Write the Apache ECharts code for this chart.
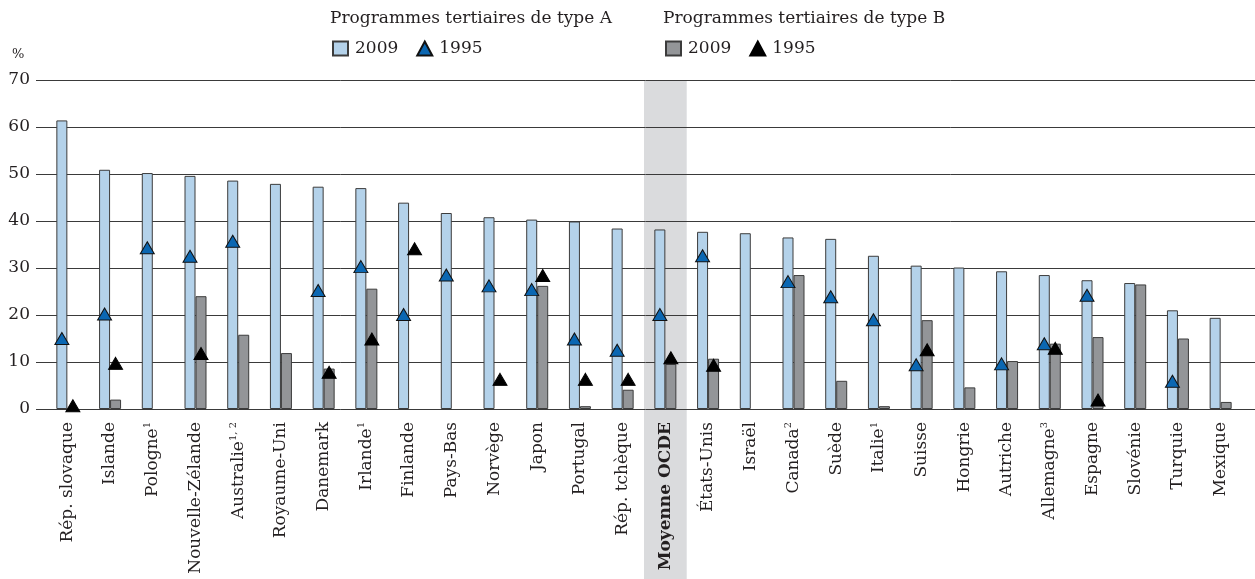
<!DOCTYPE html>
<html>
<head>
<meta charset="utf-8">
<script src="https://cdn.jsdelivr.net/npm/echarts@6/dist/echarts.min.js"></script>
<style>
  html, body { margin: 0; padding: 0; background: #fff; }
  #chart { width: 1255px; height: 579px; }
</style>
</head>
<body>
<div id="chart"></div>
<script>
  // categories (pays) + appels de note
  var categories = ['Rép. slovaque', 'Islande', 'Pologne', 'Nouvelle-Zélande', 'Australie', 'Royaume-Uni',
    'Danemark', 'Irlande', 'Finlande', 'Pays-Bas', 'Norvège', 'Japon', 'Portugal', 'Rép. tchèque',
    'Moyenne OCDE', 'États-Unis', 'Israël', 'Canada', 'Suède', 'Italie', 'Suisse', 'Hongrie',
    'Autriche', 'Allemagne', 'Espagne', 'Slovénie', 'Turquie', 'Mexique']
  var notes = ['', '', '1', '', '1, 2', '', '', '1', '', '', '', '', '', '', '', '', '', '2', '', '1',
    '', '', '', '3', '', '', '', '']

  // type A
  var typeA2009 = [61.4, 50.9, 50.2, 49.6, 48.6, 47.9, 47.3, 47.0, 43.9, 41.7, 40.8, 40.3, 39.9, 38.4,
    38.2, 37.7, 37.4, 36.5, 36.2, 32.6, 30.5, 30.1, 29.3, 28.5, 27.4, 26.8, 21.0, 19.4]
  var typeA1995 = [15.0, 20.2, 34.3, 32.5, 35.7, null, 25.2, 30.3, 20.1, 28.5, 26.2, 25.4, 14.9, 12.5,
    20.1, 32.6, null, 27.1, 23.9, 19.0, 9.4, null, 9.6, 13.9, 24.2, null, 5.9, null]
  // type B
  var typeB2009 = [null, 2.0, null, 24.0, 15.8, 11.9, 8.6, 25.6, null, null, null, 26.2, 0.6, 4.1,
    9.6, 10.7, null, 28.5, 6.0, 0.6, 18.9, 4.6, 10.2, 13.9, 15.3, 26.5, 15.0, 1.5]
  var typeB1995 = [0.7, 9.7, null, 11.8, null, null, 7.8, 14.9, 34.1, null, 6.3, 28.4, 6.3, 6.3,
    10.9, 9.3, null, null, null, null, 12.6, null, null, 12.9, 1.9, null, null, null]

  var yTicks = [0, 10, 20, 30, 40, 50, 60, 70]
  var avgName = 'Moyenne OCDE'

  // valeurs manquantes -> '-' pour ne rien dessiner
  function gaps(arr) {
    return arr.map(function (v) { return v === null ? '-' : v })
  }

  var font = 'DejaVu Serif'
  var chart = echarts.init(document.getElementById('chart'))

  var titleStyle = { fontFamily: font, fontSize: 17, fontWeight: 'normal', color: '#231f20' }
  var legendText = { fontFamily: font, fontSize: 17, color: '#231f20', padding: [0, 0, 0, 2] }

  var option = {
    backgroundColor: '#fff',
    animation: false,
    textStyle: { fontFamily: font, color: '#231f20' },
    title: [
      { text: 'Programmes tertiaires de type A', left: 330, top: 10, padding: 0, textStyle: titleStyle },
      { text: 'Programmes tertiaires de type B', left: 663, top: 10, padding: 0, textStyle: titleStyle },
      { text: '%', left: 12, top: 48, padding: 0,
        textStyle: { fontFamily: font, fontSize: 13, fontWeight: 'normal', color: '#231f20' } }
    ],
    legend: [
      { data: [{ name: 'A2009', icon: 'rect' }, { name: 'A1995' }], left: 332, top: 40, padding: 0,
        itemWidth: 15, itemHeight: 14, itemGap: 18,
        formatter: function (n) { return n.slice(1) }, textStyle: legendText },
      { data: [{ name: 'B2009', icon: 'rect' }, { name: 'B1995' }], left: 665, top: 40, padding: 0,
        itemWidth: 15, itemHeight: 14, itemGap: 18,
        formatter: function (n) { return n.slice(1) }, textStyle: legendText }
    ],
    grid: [
      { left: 46, right: 13, top: 80, bottom: 170 },
      { left: 36, right: 0, top: 80, bottom: 170 }
    ],
    xAxis: [
      {
        type: 'category', gridIndex: 0, data: categories,
        axisLine: { show: false }, axisTick: { show: false },
        axisLabel: {
          interval: 0, rotate: 90, margin: 13, fontFamily: font, fontSize: 17, color: '#231f20',
          formatter: function (v, i) {
            if (v === avgName) return '{b|' + v + '}'
            return notes[i] ? v + '{sup|' + notes[i] + '}' : v
          },
          rich: {
            b: { fontFamily: font, fontSize: 17, fontWeight: 'bold', color: '#231f20' },
            sup: { fontFamily: font, fontSize: 10, color: '#231f20', verticalAlign: 'top', lineHeight: 20 }
          }
        }
      },
      { type: 'value', gridIndex: 1, show: false, min: 0, max: 1 }
    ],
    yAxis: [
      { type: 'value', gridIndex: 0, min: 0, max: 70, interval: 10, show: false },
      {
        type: 'value', gridIndex: 1, min: yTicks[0], max: yTicks[yTicks.length - 1], interval: 10,
        axisLine: { show: false }, axisTick: { show: false },
        axisLabel: { margin: 6, fontFamily: font, fontSize: 17, color: '#231f20' },
        splitLine: { lineStyle: { color: '#3a3a3a', width: 1 } }
      }
    ],
    series: [
      {
        name: 'A2009', type: 'bar', xAxisIndex: 0, yAxisIndex: 0, data: gaps(typeA2009),
        barWidth: 11, barGap: '0%',
        itemStyle: { color: '#b4d2ea', borderColor: '#3c3c3c', borderWidth: 1 }
      },
      {
        name: 'B2009', type: 'bar', xAxisIndex: 0, yAxisIndex: 0, data: gaps(typeB2009),
        barWidth: 11, barGap: '0%',
        itemStyle: { color: '#939598', borderColor: '#3c3c3c', borderWidth: 1 }
      },
      {
        name: 'A1995', type: 'scatter', xAxisIndex: 0, yAxisIndex: 0, data: gaps(typeA1995),
        symbol: 'triangle', symbolSize: [14, 12], symbolOffset: [-5.5, 0], z: 5,
        itemStyle: { color: '#0b67b2', borderColor: '#111', borderWidth: 1, opacity: 1 }
      },
      {
        name: 'B1995', type: 'scatter', xAxisIndex: 0, yAxisIndex: 0, data: gaps(typeB1995),
        symbol: 'triangle', symbolSize: [14, 12], symbolOffset: [5.5, 0], z: 5,
        itemStyle: { color: '#000', borderColor: '#000', borderWidth: 1, opacity: 1 }
      }
    ]
  }
  chart.setOption(option)

  // bande grise derrière la moyenne OCDE (pixels tirés des axes)
  var cx = chart.convertToPixel({ xAxisIndex: 0 }, avgName)
  var step = chart.convertToPixel({ xAxisIndex: 0 }, categories[categories.indexOf(avgName) + 1]) - cx
  var yTop = chart.convertToPixel({ yAxisIndex: 0 }, 70)
  chart.setOption({
    graphic: [{
      type: 'rect', silent: true, z: -10,
      shape: { x: cx - step / 2, y: yTop, width: step, height: 579 - yTop },
      style: { fill: '#dadbdd' }
    }]
  })
</script>
</body>
</html>
